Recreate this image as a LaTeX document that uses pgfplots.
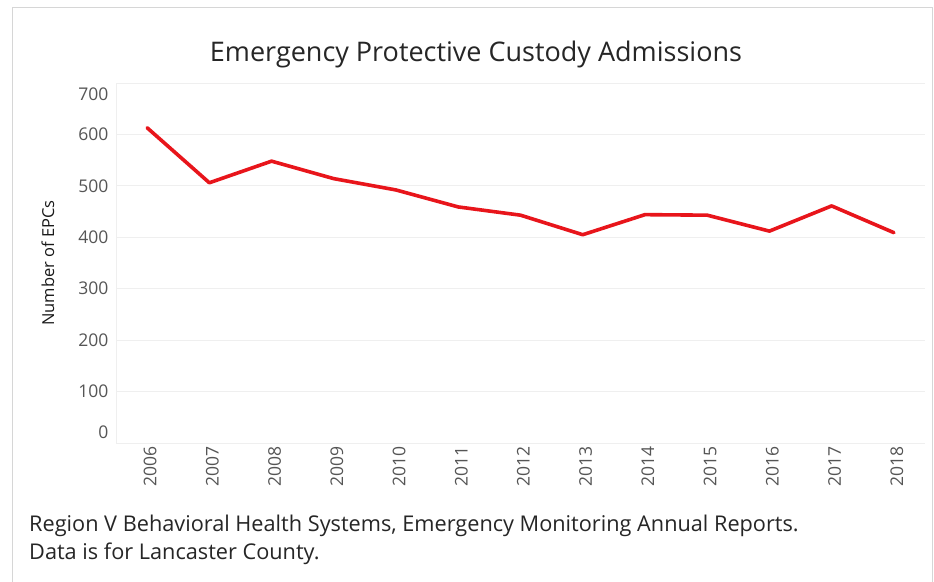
\documentclass[border=0pt]{standalone}
\usepackage{pgfplots}
\pgfplotsset{compat=1.18}
\usepackage{fontspec}
\setmainfont{Open Sans}
\definecolor{linered}{HTML}{E8151B}
\definecolor{gridc}{HTML}{EFEFEF}
\definecolor{tickc}{HTML}{555555}
\definecolor{framec}{HTML}{D6D6D6}
\begin{document}
\begin{tikzpicture}[x=1pt,y=1pt]
\path[use as bounding box] (0pt,0pt) rectangle (934pt,581pt);
\fill[white] (0pt,0pt) rectangle (934pt,581pt);
\draw[framec, line width=1pt] (12pt,-5pt) -- (12pt,573pt) -- (932pt,573pt) -- (932pt,-5pt);
\node[font=\fontsize{27}{30}\selectfont, text=black!85, anchor=center] at (476pt,527pt) {Emergency Protective Custody Admissions};
\node[font=\fontsize{21.7}{24}\selectfont, text=black!85, anchor=base west, inner sep=0] at (29pt,50pt) {Region V Behavioral Health Systems, Emergency Monitoring Annual Reports.};
\node[font=\fontsize{21.7}{24}\selectfont, text=black!85, anchor=base west, inner sep=0] at (29pt,22pt) {Data is for Lancaster County.};
\begin{axis}[
  at={(116pt,138pt)}, anchor=south west,
  scale only axis, width=809pt, height=360pt,
  xmin=2005.5, xmax=2018.5, ymin=0, ymax=700,
  xtick={2006,...,2018},
  xticklabels={2006,2007,2008,2009,2010,2011,2012,2013,2014,2015,2016,2017,2018},
  ytick={0,100,...,700},
  yticklabels={\raisebox{11pt}[\height][\depth]{0},100,200,300,400,500,600,\raisebox{-11pt}[\height][\depth]{700}},
  x tick label style={rotate=90, anchor=east, font=\fontsize{17.5}{19}\selectfont, text=tickc, yshift=-3pt},
  y tick label style={font=\fontsize{17.5}{19}\selectfont, text=tickc, xshift=-4pt},
  major tick length=0pt,
  tick style={draw=none},
  ymajorgrids, grid style={gridc, line width=0.8pt},
  axis line style={draw=none},
  axis x line*=bottom, axis y line*=left,
  ylabel={Number of EPCs},
  ylabel style={font=\fontsize{16.5}{18}\selectfont, text=black!90, at={(axis description cs:0,0.5)}, anchor=center, yshift=68pt},
  clip=false,
]
\draw[gridc, line width=1pt] (axis cs:2005.5,0) -- (axis cs:2005.5,700);
\draw[gridc, line width=1pt] (axis cs:2005.5,0) -- (axis cs:2018.5,0);
\addplot[linered, line width=3.6pt, line join=round, line cap=round, mark=none] coordinates {
(2006,613) (2007,506) (2008,548) (2009,514) (2010,492) (2011,459) (2012,443)
(2013,405) (2014,444) (2015,443) (2016,412) (2017,461) (2018,409)
};
\end{axis}
\end{tikzpicture}
\end{document}
